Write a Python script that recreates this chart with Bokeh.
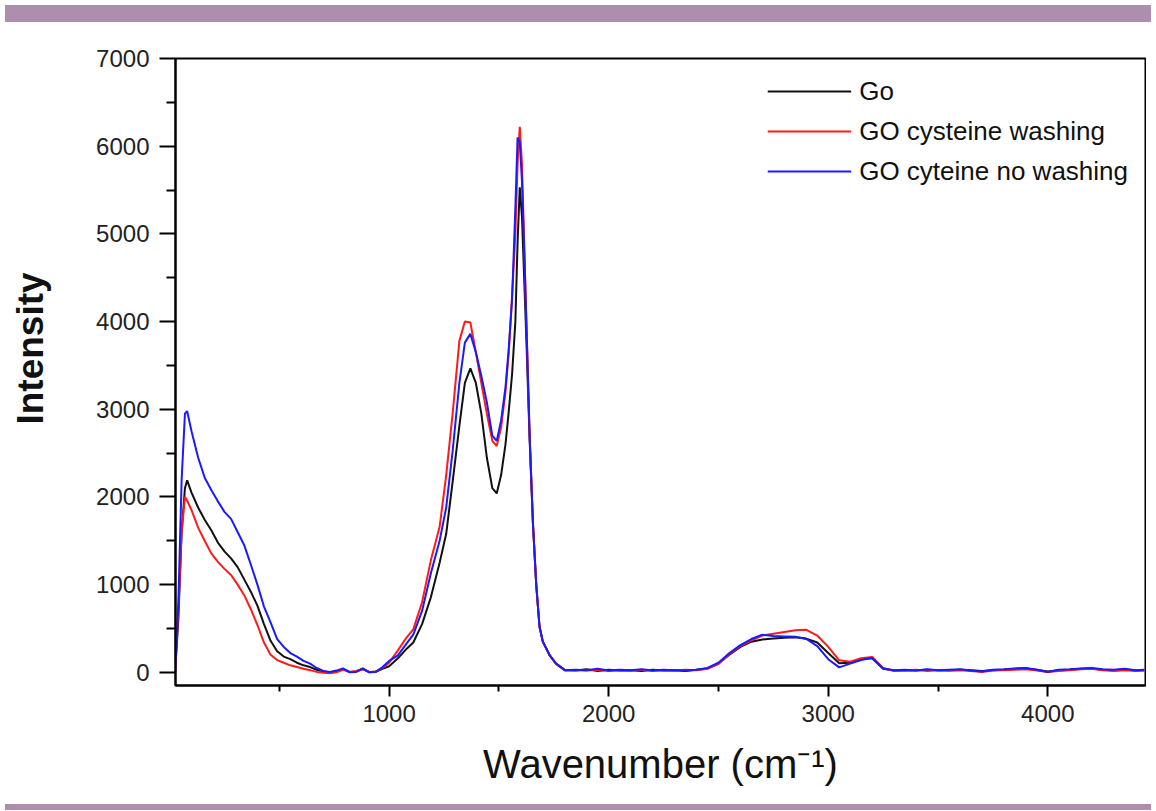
import math
from bokeh.plotting import figure
from bokeh.models import FixedTicker, Div, Legend, LegendItem, Range1d
from bokeh.layouts import column, row
from bokeh.core.properties import value
from bokeh.embed import file_html
from bokeh.resources import INLINE

# ---------------- data ----------------
wavenumber = [
    25, 40, 55, 70, 80, 100, 130, 160, 190, 220, 250, 280, 310, 340, 370,
    400, 430, 460, 490, 520, 550, 580, 610, 640, 670, 700, 730, 760, 790, 820,
    850, 880, 910, 940, 970, 1000, 1040, 1080, 1110, 1150, 1190, 1230, 1260,
    1290, 1320, 1345, 1370, 1395, 1420, 1445, 1470, 1490, 1510, 1530, 1545,
    1560, 1575, 1585, 1595, 1605, 1615, 1625, 1640, 1655, 1670, 1685, 1700,
    1730, 1760, 1800,
    1850, 1900, 1950, 2000, 2050, 2100, 2150, 2200, 2250, 2300, 2350, 2400,
    2450, 2500, 2550, 2600, 2650, 2700, 2750, 2800, 2850, 2900, 2950, 3000,
    3050, 3100, 3150, 3200, 3250, 3300, 3350, 3400, 3450, 3500, 3550, 3600,
    3650, 3700, 3750, 3800, 3850, 3900, 3950, 4000, 4050, 4100, 4150, 4200,
    4250, 4300, 4350, 4400, 4440,
]

intensity_go = [
    0, 600, 1600, 2100, 2190, 2050, 1880, 1740, 1620, 1480, 1380, 1300, 1200, 1060, 920,
    760, 550, 360, 240, 180, 150, 110, 80, 60, 30, 10, 0, 10, 40, 5,
    10, 45, 0, 10, 40, 70, 160, 270, 340, 550, 855, 1250, 1580,
    2190, 2810, 3300, 3466, 3300, 2950, 2450, 2100, 2040, 2250, 2600, 2980,
    3400, 4000, 4900, 5530, 5200, 4500, 3800, 2650, 1700, 1000, 520, 350,
    200, 100, 25,
    20, 35, 15, 30, 20, 25, 15, 30, 20, 25, 15, 30,
    45, 100, 200, 290, 350, 375, 385, 395, 400, 385, 340, 220,
    103, 110, 150, 160, 40, 20, 25, 20, 30, 25, 20, 30,
    25, 15, 25, 30, 40, 45, 30, 10, 25, 30, 40, 45,
    30, 25, 35, 20, 25,
]

intensity_go_cys_wash = [
    0, 700, 1600, 2000, 1960, 1850, 1650, 1500, 1357, 1260, 1180, 1110, 1000, 880, 720,
    540, 340, 200, 140, 110, 80, 60, 40, 25, 5, -5, -10, 0, 30, 5,
    15, 35, 5, 10, 50, 110, 250, 400, 490, 800, 1277, 1660, 2250,
    2970, 3780, 4000, 3990, 3650, 3300, 2950, 2640, 2580, 2794, 3200, 3650,
    4300, 5000, 5800, 6220, 5800, 4900, 4000, 2700, 1700, 1000, 520, 350,
    200, 100, 25,
    25, 20, 30, 15, 25, 20, 30, 15, 25, 20, 30, 25,
    40, 95, 210, 300, 365, 420, 440, 460, 480, 485, 420, 290,
    137, 120, 160, 175, 50, 15, 20, 30, 15, 25, 20, 25,
    15, 5, 20, 25, 30, 35, 20, 5, 15, 25, 35, 40,
    25, 15, 25, 15, 20,
]

intensity_go_cys_nowash = [
    0, 800, 2200, 2950, 2980, 2750, 2450, 2220, 2080, 1950, 1830, 1750, 1600, 1450, 1230,
    1000, 750, 570, 380, 290, 220, 180, 130, 100, 50, 15, 5, 20, 45, 0,
    5, 40, 0, 5, 60, 130, 194, 330, 430, 700, 1129, 1500, 1880,
    2540, 3300, 3760, 3860, 3650, 3380, 3080, 2700, 2640, 2873, 3250, 3700,
    4250, 5300, 6100, 6050, 5600, 4850, 4000, 2700, 1700, 1000, 520, 350,
    200, 100, 25,
    30, 25, 40, 20, 30, 25, 35, 20, 30, 25, 20, 30,
    50, 110, 220, 310, 380, 430, 415, 410, 405, 380, 300, 150,
    57, 100, 140, 165, 45, 25, 30, 20, 35, 25, 30, 35,
    20, 10, 30, 35, 45, 50, 30, 5, 30, 35, 45, 50,
    35, 30, 40, 25, 30,
]

series_labels = ["Go", "GO cysteine washing", "GO cyteine no washing"]
series_colors = ["#111111", "#ff1a1a", "#1a1aff"]

x_major_ticks = [1000, 2000, 3000, 4000]
x_minor_ticks = [500, 1500, 2500, 3500]
y_major_ticks = [0, 1000, 2000, 3000, 4000, 5000, 6000, 7000]
y_minor_ticks = [500, 1500, 2500, 3500, 4500, 5500, 6500]

y_title = "Intensity"
x_title = "Wavenumber (cm\u207b\u00b9)"

FONT = "Liberation Sans"
PURPLE = "#ad8fad"
W = 1146
H = 772
LW = 60  # width of the strip that carries the y-axis title

# ---------------- strip with the y-axis title ----------------
strip = figure(
    width=LW, height=H, x_range=Range1d(0, LW), y_range=Range1d(0, H),
    x_axis_location=None, y_axis_location=None,
    output_backend="svg", toolbar_location=None,
    min_border=0, outline_line_color=None,
    background_fill_color="white", border_fill_color="white",
)
strip.xgrid.visible = False
strip.ygrid.visible = False
strip.text(
    x=[30], y=[415], text=[y_title], angle=math.pi / 2,
    text_align="center", text_baseline="middle",
    text_font=value(FONT), text_font_size="37px", text_font_style="bold",
    text_color="#111111",
)

# ---------------- main figure ----------------
p = figure(
    width=W - LW, height=H,
    x_range=Range1d(27, 4445), y_range=Range1d(-150, 7000),
    output_backend="svg", toolbar_location=None,
    min_border_left=175 - LW, min_border_right=1,
    min_border_top=31, min_border_bottom=114,
    background_fill_color="white", border_fill_color="white",
)

renderers = []
for ys, col in zip([intensity_go, intensity_go_cys_wash, intensity_go_cys_nowash], series_colors):
    r = p.line(wavenumber, ys, line_color=col, line_width=2)
    renderers.append(r)

p.xgrid.visible = False
p.ygrid.visible = False
p.outline_line_color = "black"
p.outline_line_width = 2
p.outline_line_alpha = 1

xa = p.xaxis[0]
xa.ticker = FixedTicker(ticks=x_major_ticks, minor_ticks=x_minor_ticks)
xa.axis_line_width = 2
xa.major_tick_line_width = 2
xa.minor_tick_line_width = 2
xa.major_tick_in = 0
xa.major_tick_out = 11
xa.minor_tick_in = 0
xa.minor_tick_out = 6
xa.major_label_text_font = FONT
xa.major_label_text_font_size = "24px"
xa.major_label_text_color = "#222222"
xa.major_label_standoff = 8
xa.axis_label = x_title
xa.axis_label_text_font = FONT
xa.axis_label_text_font_size = "40px"
xa.axis_label_text_font_style = "normal"
xa.axis_label_text_color = "#111111"
xa.axis_label_standoff = 17

ya = p.yaxis[0]
ya.ticker = FixedTicker(ticks=y_major_ticks, minor_ticks=y_minor_ticks)
ya.axis_line_width = 2
ya.major_tick_line_width = 2
ya.minor_tick_line_width = 2
ya.major_tick_in = 0
ya.major_tick_out = 16
ya.minor_tick_in = 0
ya.minor_tick_out = 9
ya.major_label_text_font = FONT
ya.major_label_text_font_size = "24px"
ya.major_label_text_color = "#222222"
ya.major_label_standoff = 10

legend = Legend(
    items=[LegendItem(label=lab, renderers=[r]) for lab, r in zip(series_labels, renderers)],
    location="top_right",
    border_line_color=None,
    background_fill_alpha=0,
    label_text_font=FONT,
    label_text_font_size="26px",
    label_text_color="#111111",
    glyph_width=84,
    glyph_height=32,
    spacing=8,
    padding=0,
    margin=17,
    label_standoff=8,
)
p.add_layout(legend)

top_band = Div(text="", width=W, height=17, styles={"background-color": PURPLE})
bottom_band = Div(text="", width=W, height=6, styles={"background-color": PURPLE})

layout = column(top_band, row(strip, p, spacing=0), bottom_band, spacing=0)

open("out.html", "w").write(file_html(layout, INLINE))
